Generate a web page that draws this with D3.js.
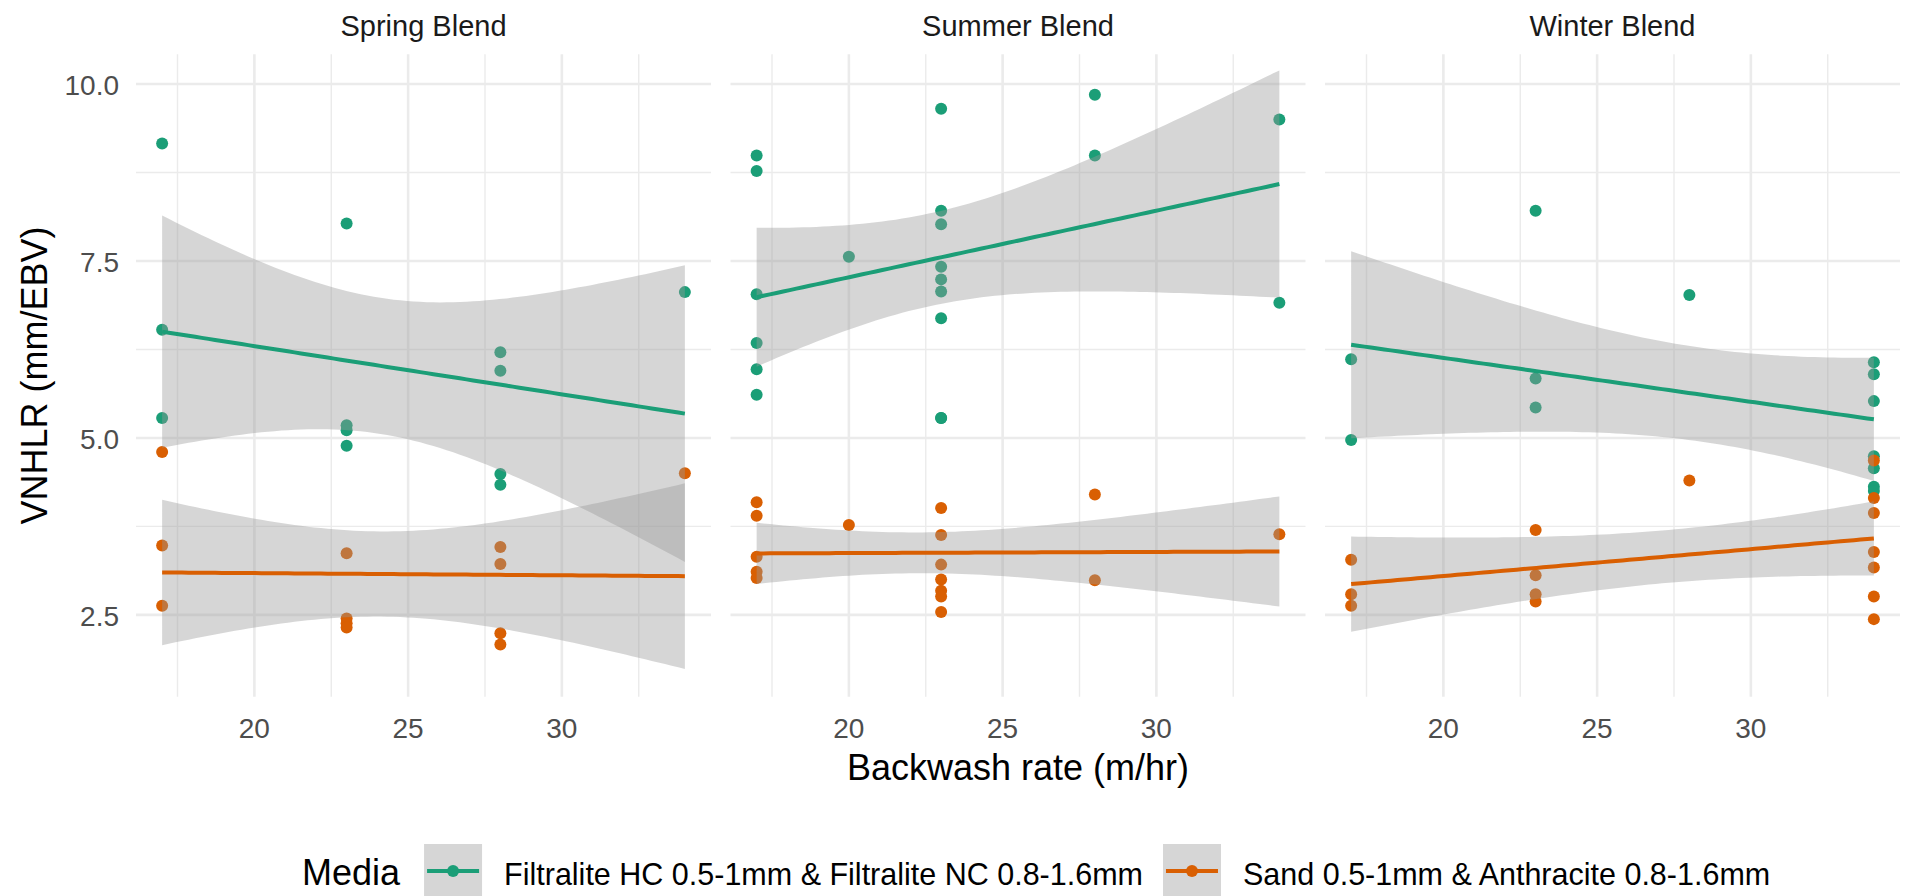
<!DOCTYPE html>
<html>
<head>
<meta charset="utf-8">
<script src="https://cdn.jsdelivr.net/npm/d3@7"></script>
<style>
  body { margin: 0; background: #fff; }
  svg { display: block; font-family: "Liberation Sans", Arial, sans-serif; }
</style>
</head>
<body>
<div id="chart"></div>
<script>
// facets and legend entries
const blends = ['Spring Blend', 'Summer Blend', 'Winter Blend'];
const mediaNames = ['Filtralite HC 0.5-1mm & Filtralite NC 0.8-1.6mm', 'Sand 0.5-1mm & Anthracite 0.8-1.6mm'];
const mediaColors = ['#1b9e77', '#d95f02'];

// [backwash rate (m/hr), VNHLR (mm/EBV)]
const springFiltralite = [[17, 9.16], [17, 6.53], [17, 5.28], [23, 8.03], [23, 5.18], [23, 5.11], [23, 4.89],
                          [28, 6.21], [28, 5.95], [28, 4.49], [28, 4.34], [34, 7.06]];
const springSand = [[17, 4.80], [17, 3.48], [17, 2.63], [23, 3.37], [23, 2.45], [23, 2.38], [23, 2.32],
                    [28, 3.46], [28, 3.22], [28, 2.24], [28, 2.08], [34, 4.50]];
const summerFiltralite = [[17, 8.99], [17, 8.77], [17, 7.03], [17, 6.34], [17, 5.97], [17, 5.61], [20, 7.56],
                          [23, 9.65], [23, 8.21], [23, 8.02], [23, 7.42], [23, 7.24], [23, 7.07], [23, 6.69],
                          [23, 5.28], [23, 5.28],
                          [28, 9.85], [28, 8.99], [34, 9.50], [34, 6.91]];
const summerSand = [[17, 4.09], [17, 3.90], [17, 3.32], [17, 3.11], [17, 3.02], [20, 3.77],
                    [23, 4.01], [23, 3.63], [23, 3.21], [23, 3.00], [23, 2.84], [23, 2.76], [23, 2.54],
                    [28, 4.20], [28, 2.99], [34, 3.64]];
const winterFiltralite = [[17, 6.11], [17, 4.97], [23, 8.21], [23, 5.84], [23, 5.43], [28, 7.02],
                          [34, 6.07], [34, 5.90], [34, 5.52], [34, 4.74], [34, 4.57], [34, 4.31], [34, 4.25]];
const winterSand = [[17, 3.28], [17, 2.79], [17, 2.63], [23, 3.70], [23, 3.06], [23, 2.79], [23, 2.69], [28, 4.40],
                    [34, 4.68], [34, 4.15], [34, 3.94], [34, 3.39], [34, 3.17], [34, 2.76], [34, 2.44]];

const xTicks = [20, 25, 30];
const xMinorTicks = [17.5, 22.5, 27.5, 32.5];
const yTicks = [2.5, 5.0, 7.5, 10.0];
const yMinorTicks = [3.75, 6.25, 8.75];
const yLimits = [1.344, 10.42];

const panelData = [
    [springFiltralite, springSand],
    [summerFiltralite, summerSand],
    [winterFiltralite, winterSand]
];

// --- stats helpers for the lm smoother (95% band) ---
function lgamma(z) {
    const c = [0.99999999999980993, 676.5203681218851, -1259.1392167224028, 771.32342877765313,
               -176.61502916214059, 12.507343278686905, -0.13857109526572012, 9.9843695780195716e-6,
               1.5056327351493116e-7];
    if (z < 0.5) return Math.log(Math.PI / Math.sin(Math.PI * z)) - lgamma(1 - z);
    z -= 1;
    let x = c[0];
    for (let i = 1; i < 9; i++) x += c[i] / (z + i);
    let t = z + 7.5;
    return 0.5 * Math.log(2 * Math.PI) + (z + 0.5) * Math.log(t) - t + Math.log(x);
}

function tCdf(t, df) {
    let k = lgamma((df + 1) / 2) - lgamma(df / 2) - 0.5 * Math.log(df * Math.PI);
    let dens = u => Math.exp(k - (df + 1) / 2 * Math.log(1 + u * u / df));
    let n = 400, h = Math.abs(t) / n, s = dens(0) + dens(Math.abs(t));
    for (let i = 1; i < n; i++) s += (i % 2 ? 4 : 2) * dens(i * h);
    let area = s * h / 3;
    return t >= 0 ? 0.5 + area : 0.5 - area;
}

function tQuantile(p, df) {
    let lo = 0, hi = 60;
    for (let i = 0; i < 60; i++) {
        let mid = (lo + hi) / 2;
        if (tCdf(mid, df) < p) lo = mid; else hi = mid;
    }
    return (lo + hi) / 2;
}

function lmSmooth(pts) {
    let n = pts.length;
    let mx = d3.mean(pts, d => d[0]), my = d3.mean(pts, d => d[1]);
    let sxx = d3.sum(pts, d => (d[0] - mx) ** 2);
    let sxy = d3.sum(pts, d => (d[0] - mx) * (d[1] - my));
    let b = sxy / sxx, a = my - b * mx;
    let sse = d3.sum(pts, d => (d[1] - a - b * d[0]) ** 2);
    let s = Math.sqrt(sse / (n - 2));
    let tq = tQuantile(0.975, n - 2);
    let [x0, x1] = d3.extent(pts, d => d[0]);
    return d3.range(80).map(i => {
        let x = x0 + i * (x1 - x0) / 79;
        let fit = a + b * x;
        let se = s * Math.sqrt(1 / n + (x - mx) ** 2 / sxx);
        return { x: x, y: fit, lo: fit - tq * se, hi: fit + tq * se };
    });
}

class FacetPlot {

    constructor(selector) {
        this.width = 1910;
        this.height = 896;
        this.panelLeft = 136;
        this.panelW = 575;
        this.gap = 19.5;
        this.top = 54.3;
        this.bottom = 696.7;

        this.svg = d3.select(selector).append('svg')
            .attr('width', this.width)
            .attr('height', this.height);

        let allX = panelData.flat(2).map(d => d[0]);
        let [xmin, xmax] = d3.extent(allX);
        let pad = (xmax - xmin) * 0.05;
        this.xDomain = [xmin - pad, xmax + pad];

        this.y = d3.scaleLinear().domain(yLimits).range([this.bottom, this.top]);
    }

    drawPanel(i) {
        let left = this.panelLeft + i * (this.panelW + this.gap);
        let x = d3.scaleLinear().domain(this.xDomain).range([left, left + this.panelW]);
        let y = this.y;
        let g = this.svg.append('g').classed('panel', true);

        g.append('clipPath').attr('id', 'clip' + i)
            .append('rect')
            .attr('x', left).attr('y', this.top)
            .attr('width', this.panelW).attr('height', this.bottom - this.top);

        // grid
        g.selectAll('.ygrid-minor').data(yMinorTicks).join('line')
            .attr('x1', left).attr('x2', left + this.panelW)
            .attr('y1', d => y(d)).attr('y2', d => y(d))
            .attr('stroke', '#ebebeb').attr('stroke-width', 1.4);
        g.selectAll('.xgrid-minor').data(xMinorTicks).join('line')
            .attr('y1', this.top).attr('y2', this.bottom)
            .attr('x1', d => x(d)).attr('x2', d => x(d))
            .attr('stroke', '#ebebeb').attr('stroke-width', 1.4);
        g.selectAll('.ygrid').data(yTicks).join('line')
            .attr('x1', left).attr('x2', left + this.panelW)
            .attr('y1', d => y(d)).attr('y2', d => y(d))
            .attr('stroke', '#ebebeb').attr('stroke-width', 2.6);
        g.selectAll('.xgrid').data(xTicks).join('line')
            .attr('y1', this.top).attr('y2', this.bottom)
            .attr('x1', d => x(d)).attr('x2', d => x(d))
            .attr('stroke', '#ebebeb').attr('stroke-width', 2.6);

        // points first, smoothers on top (like geom_point + geom_smooth)
        panelData[i].forEach((pts, m) => {
            g.append('g').selectAll('circle').data(pts).join('circle')
                .attr('cx', d => x(d[0]))
                .attr('cy', d => y(d[1]))
                .attr('r', 6)
                .attr('fill', mediaColors[m]);
        });

        let band = d3.area().x(d => x(d.x)).y0(d => y(d.lo)).y1(d => y(d.hi));
        let line = d3.line().x(d => x(d.x)).y(d => y(d.y));
        let sm = g.append('g').attr('clip-path', 'url(#clip' + i + ')');
        panelData[i].forEach((pts, m) => {
            let fit = lmSmooth(pts);
            sm.append('path').attr('d', band(fit))
                .attr('fill', '#999999').attr('fill-opacity', 0.4);
            sm.append('path').attr('d', line(fit))
                .attr('fill', 'none')
                .attr('stroke', mediaColors[m])
                .attr('stroke-width', 4);
        });

        // strip title
        g.append('text')
            .attr('x', left + this.panelW / 2).attr('y', 36)
            .attr('text-anchor', 'middle')
            .attr('font-size', 29).attr('fill', '#1a1a1a')
            .text(blends[i]);

        // x tick labels
        g.selectAll('.xlab').data(xTicks).join('text')
            .attr('x', d => x(d)).attr('y', 738)
            .attr('text-anchor', 'middle')
            .attr('font-size', 28).attr('fill', '#4d4d4d')
            .text(d => d);

        if (i == 0) {
            g.selectAll('.ylab').data(yTicks).join('text')
                .attr('x', 119).attr('y', d => y(d) + 11)
                .attr('text-anchor', 'end')
                .attr('font-size', 28).attr('fill', '#4d4d4d')
                .text(d => d3.format('.1f')(d));
        }
    }

    drawTitles() {
        let mid = this.panelLeft + (3 * this.panelW + 2 * this.gap) / 2;
        this.svg.append('text')
            .attr('x', mid).attr('y', 780)
            .attr('text-anchor', 'middle')
            .attr('font-size', 36)
            .text('Backwash rate (m/hr)');
        this.svg.append('text')
            .attr('transform', 'translate(46.5,' + (this.top + this.bottom) / 2 + ') rotate(-90)')
            .attr('text-anchor', 'middle')
            .attr('font-size', 36)
            .text('VNHLR (mm/EBV)');
    }

    drawLegend() {
        let lg = this.svg.append('g').classed('legend', true);
        let baseline = 885;
        let cx = 302;
        let title = lg.append('text')
            .attr('x', cx).attr('y', baseline)
            .attr('font-size', 36)
            .text('Media');
        cx += title.node().getComputedTextLength() + 24;

        mediaNames.forEach((name, m) => {
            let key = lg.append('g').attr('transform', 'translate(' + cx + ',844)');
            key.append('rect').attr('width', 58).attr('height', 54).attr('fill', '#d6d6d6');
            key.append('line')
                .attr('x1', 3).attr('x2', 55).attr('y1', 27).attr('y2', 27)
                .attr('stroke', mediaColors[m]).attr('stroke-width', 4);
            key.append('circle').attr('cx', 29).attr('cy', 27).attr('r', 6)
                .attr('fill', mediaColors[m]);
            cx += 58 + 22;
            let label = lg.append('text')
                .attr('x', cx).attr('y', baseline)
                .attr('font-size', 30.5)
                .text(name);
            cx += label.node().getComputedTextLength() + 20;
        });
    }
}

let plot = new FacetPlot('#chart');
blends.forEach((b, i) => plot.drawPanel(i));
plot.drawTitles();
plot.drawLegend();
</script>
</body>
</html>
